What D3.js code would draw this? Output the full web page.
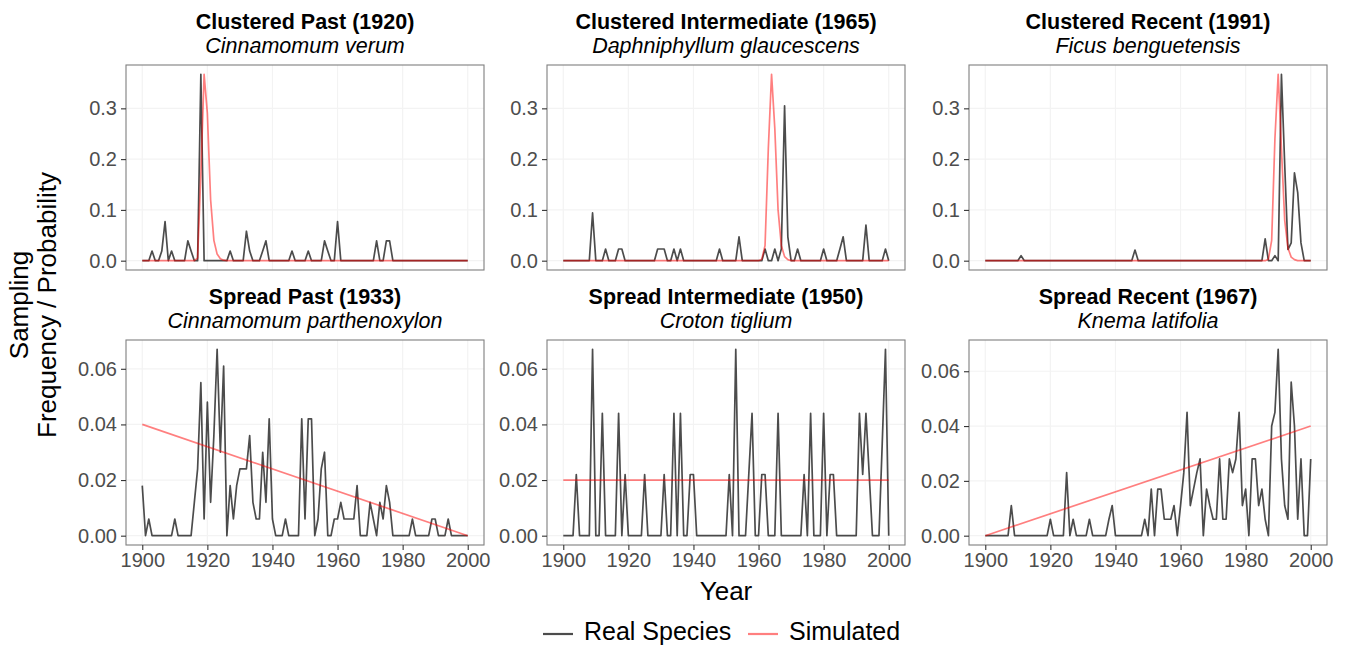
<!DOCTYPE html>
<html>
<head>
<meta charset="utf-8">
<script src="https://cdn.jsdelivr.net/npm/d3@7"></script>
<style>
  body { margin: 0; background: #fff; }
  svg { font-family: "Liberation Sans", Arial, sans-serif; }
</style>
</head>
<body>
<svg id="chart" width="1347" height="646"></svg>
<script>
// ---- data ----
var years = d3.range(1900, 2001);

var titles = ["Clustered Past (1920)", "Clustered Intermediate (1965)", "Clustered Recent (1991)",
              "Spread Past (1933)", "Spread Intermediate (1950)", "Spread Recent (1967)"];
var species = ["Cinnamomum verum", "Daphniphyllum glaucescens", "Ficus benguetensis",
               "Cinnamomum parthenoxylon", "Croton tiglium", "Knema latifolia"];

// real species sampling frequency, one value per year 1900..2000
var realClusteredPast = [
  0,0,0,0.019,0,0,0.019,0.077,0,0.019,
  0,0,0,0,0.039,0.019,0,0,0.367,0,
  0,0,0,0,0,0,0,0.019,0,0,
  0,0,0.058,0.019,0,0,0,0.019,0.039,0,
  0,0,0,0,0,0,0.019,0,0,0,
  0,0.019,0,0,0,0,0.039,0.019,0,0,
  0.077,0,0,0,0,0,0,0,0,0,
  0,0,0.039,0,0,0.039,0.039,0,0,0,
  0,0,0,0,0,0,0,0,0,0,
  0,0,0,0,0,0,0,0,0,0,
  0];
var realClusteredInter = [
  0,0,0,0,0,0,0,0,0,0.094,
  0,0,0,0.023,0,0,0,0.023,0.023,0,
  0,0,0,0,0,0,0,0,0,0.023,
  0.023,0.023,0,0,0.023,0,0.023,0,0,0,
  0,0,0,0,0,0,0,0,0.023,0,
  0,0,0,0,0.047,0,0,0,0,0,
  0,0,0.023,0,0,0.023,0,0.023,0.305,0.047,
  0,0,0.023,0,0,0,0,0,0,0,
  0.023,0,0,0,0,0.023,0.047,0,0,0,
  0,0,0,0.07,0,0,0,0,0,0.023,
  0];
var realClusteredRecent = [
  0,0,0,0,0,0,0,0,0,0,
  0,0.01,0,0,0,0,0,0,0,0,
  0,0,0,0,0,0,0,0,0,0,
  0,0,0,0,0,0,0,0,0,0,
  0,0,0,0,0,0,0.021,0,0,0,
  0,0,0,0,0,0,0,0,0,0,
  0,0,0,0,0,0,0,0,0,0,
  0,0,0,0,0,0,0,0,0,0,
  0,0,0,0,0,0,0.043,0,0,0.01,
  0,0.367,0.19,0.022,0.035,0.173,0.134,0.035,0,0,
  0];
var realSpreadPast = [
  0.018,0,0.006,0,0,0,0,0,0,0,
  0.006,0,0,0,0,0,0.012,0.024,0.055,0.006,
  0.048,0.012,0.036,0.067,0.030,0.061,0,0.018,0.006,0.018,
  0.024,0.024,0.024,0.036,0.012,0.006,0.006,0.030,0.012,0.042,
  0.006,0,0,0,0.006,0,0,0,0,0.042,
  0.006,0.042,0.042,0,0.006,0.024,0.030,0,0,0.006,
  0.006,0.012,0.006,0.006,0.006,0.006,0.018,0,0,0,
  0.012,0.006,0,0.012,0.006,0.018,0.012,0,0,0,
  0,0,0,0.006,0,0,0,0,0,0.006,
  0.006,0,0,0,0.006,0,0,0,0,0,
  0];
var realSpreadInter = [
  0,0,0,0,0.022,0,0,0,0,0.067,
  0,0,0.044,0,0,0,0,0.044,0,0.022,
  0,0,0,0,0,0.022,0,0,0,0,
  0,0.022,0,0,0.044,0,0.044,0,0,0.022,
  0.022,0,0,0,0,0,0,0,0,0,
  0,0.022,0,0.067,0,0,0,0.022,0.044,0,
  0,0.022,0.022,0,0,0,0.044,0,0,0,
  0,0,0,0,0.022,0,0.044,0,0,0,
  0.044,0,0.022,0.022,0,0,0,0,0,0,
  0,0.044,0.022,0.044,0.022,0,0,0,0.033,0.067,
  0];
var realSpreadRecent = [
  0,0,0,0,0,0,0,0,0.011,0,
  0,0,0,0,0,0,0,0,0,0,
  0.006,0,0,0,0,0.023,0,0.006,0,0,
  0,0,0.006,0,0,0,0,0,0.006,0.011,
  0,0,0,0,0,0,0,0,0,0.006,
  0,0.017,0,0.017,0.017,0.006,0.006,0.006,0.011,0,
  0.011,0.023,0.045,0.011,0.017,0.023,0.028,0,0.017,0.011,
  0.006,0.006,0.028,0.006,0.006,0.028,0.023,0.028,0.045,0.011,
  0.017,0,0.028,0.028,0.011,0.017,0.006,0,0.040,0.045,
  0.068,0.028,0.011,0.006,0.056,0.040,0.006,0.028,0,0,
  0.028];

// simulated probability, as [year, value] points
var simClusteredPast = [[1900,0],[1916,0],[1917,0.005],[1918,0.17],[1919,0.367],[1920,0.29],
  [1921,0.12],[1922,0.04],[1923,0.013],[1924,0.004],[1925,0.001],[1926,0],[2000,0]];
var simClusteredInter = [[1900,0],[1960,0],[1961,0.003],[1962,0.03],[1963,0.22],[1964,0.367],
  [1965,0.26],[1966,0.1],[1967,0.03],[1968,0.008],[1969,0.002],[1970,0],[2000,0]];
var simClusteredRecent = [[1900,0],[1986,0],[1987,0.003],[1988,0.04],[1989,0.24],[1990,0.367],
  [1991,0.22],[1992,0.08],[1993,0.025],[1994,0.007],[1995,0.002],[1996,0],[2000,0]];
var simSpreadPast = [[1900,0.04],[2000,0]];
var simSpreadInter = [[1900,0.02],[2000,0.02]];
var simSpreadRecent = [[1900,0],[2000,0.04]];

var realSeries = [realClusteredPast, realClusteredInter, realClusteredRecent,
                  realSpreadPast, realSpreadInter, realSpreadRecent];
var simSeries = [simClusteredPast, simClusteredInter, simClusteredRecent,
                 simSpreadPast, simSpreadInter, simSpreadRecent];

var xTicks = [1900, 1920, 1940, 1960, 1980, 2000];
var yTicksTop = [0, 0.1, 0.2, 0.3];
var yTicksBottom = [0, 0.02, 0.04, 0.06];

var legendLabels = ["Real Species", "Simulated"];

// ---- layout ----
var svg = d3.select('#chart');
var colX = [126, 547, 969];
var rowY = [65, 340];
var pw = 358, ph = 205;
var realColor = '#000', realOpacity = 0.7;
var simColor = '#ff0000', simOpacity = 0.5;
var lw = 1.7;

for (var i = 0; i < 6; i++) {
  var row = Math.floor(i / 3), col = i % 3;
  var x0 = colX[col], y0 = rowY[row];
  var real = realSeries[i].map(function (v, k) { return [years[k], v]; });
  var sim = simSeries[i];

  var xscale = d3.scaleLinear().domain([1895, 2005]).range([0, pw]);
  var ymax = Math.max(d3.max(real, d => d[1]), d3.max(sim, d => d[1]));
  var pad = ymax * 0.05;
  var yscale = d3.scaleLinear().domain([-pad, ymax + pad]).range([ph, 0]);
  var yTicks = row === 0 ? yTicksTop : yTicksBottom;
  var yFmt = row === 0 ? d3.format('.1f') : d3.format('.2f');

  var g = svg.append('g').attr('transform', `translate(${x0},${y0})`);

  // grid
  g.append('g').selectAll('line').data(xTicks).enter().append('line')
    .attr('x1', d => xscale(d)).attr('x2', d => xscale(d))
    .attr('y1', 0).attr('y2', ph)
    .attr('stroke', '#f3f3f3').attr('stroke-width', 1.2);
  g.append('g').selectAll('line').data(yTicks).enter().append('line')
    .attr('x1', 0).attr('x2', pw)
    .attr('y1', d => yscale(d)).attr('y2', d => yscale(d))
    .attr('stroke', '#f3f3f3').attr('stroke-width', 1.2);

  var line = d3.line().x(d => xscale(d[0])).y(d => yscale(d[1]));

  g.append('path').datum(real).attr('d', line)
    .attr('fill', 'none').attr('stroke', realColor).attr('stroke-opacity', realOpacity)
    .attr('stroke-width', lw).attr('stroke-linejoin', 'round');
  g.append('path').datum(sim).attr('d', line)
    .attr('fill', 'none').attr('stroke', simColor).attr('stroke-opacity', simOpacity)
    .attr('stroke-width', lw).attr('stroke-linejoin', 'round');

  // border
  g.append('rect').attr('x', 0).attr('y', 0).attr('width', pw).attr('height', ph)
    .attr('fill', 'none').attr('stroke', '#7f7f7f').attr('stroke-width', 1.1);

  // y axis
  var yAxis = g.append('g').call(d3.axisLeft(yscale).tickValues(yTicks).tickFormat(yFmt)
    .tickSize(5).tickPadding(4));
  yAxis.select('.domain').remove();
  yAxis.selectAll('line').attr('stroke', '#333').attr('stroke-width', 1.1);
  yAxis.selectAll('text').attr('fill', '#4d4d4d').style('font-size', '20px')
    .style('font-family', '"Liberation Sans", Arial, sans-serif');

  // x axis only on the bottom row
  if (row === 1) {
    var xAxis = g.append('g').attr('transform', `translate(0,${ph})`)
      .call(d3.axisBottom(xscale).tickValues(xTicks).tickFormat(d3.format('d'))
        .tickSize(5).tickPadding(3));
    xAxis.select('.domain').remove();
    xAxis.selectAll('line').attr('stroke', '#333').attr('stroke-width', 1.1);
    xAxis.selectAll('text').attr('fill', '#4d4d4d').style('font-size', '20px')
      .style('font-family', '"Liberation Sans", Arial, sans-serif');
  }

  // titles
  g.append('text').attr('x', pw / 2).attr('y', -36).attr('text-anchor', 'middle')
    .style('font-size', '21.5px').style('font-weight', 'bold').attr('fill', '#000')
    .text(titles[i]);
  g.append('text').attr('x', pw / 2).attr('y', -12).attr('text-anchor', 'middle')
    .style('font-size', '21.5px').style('font-style', 'italic').attr('fill', '#000')
    .text(species[i]);
}

// axis titles
svg.append('text').attr('x', colX[1] + pw / 2).attr('y', 600).attr('text-anchor', 'middle')
  .style('font-size', '26px').attr('fill', '#000').text('Year');

var yt = svg.append('text').attr('transform', 'translate(0,305) rotate(-90)')
  .attr('text-anchor', 'middle').style('font-size', '26px').attr('fill', '#000');
yt.append('tspan').attr('x', 0).attr('y', 28).text('Sampling');
yt.append('tspan').attr('x', 0).attr('y', 56).text('Frequency / Probability');

// legend
var legend = svg.append('g');
var legendX = [543, 748];
var legendColors = [[realColor, realOpacity], [simColor, simOpacity]];
legendLabels.forEach(function (lab, k) {
  legend.append('line').attr('x1', legendX[k]).attr('x2', legendX[k] + 30)
    .attr('y1', 634).attr('y2', 634)
    .attr('stroke', legendColors[k][0]).attr('stroke-opacity', legendColors[k][1])
    .attr('stroke-width', 2.2);
  legend.append('text').attr('x', legendX[k] + 41).attr('y', 640)
    .style('font-size', '25px').attr('fill', '#000').text(lab);
});
</script>
</body>
</html>
